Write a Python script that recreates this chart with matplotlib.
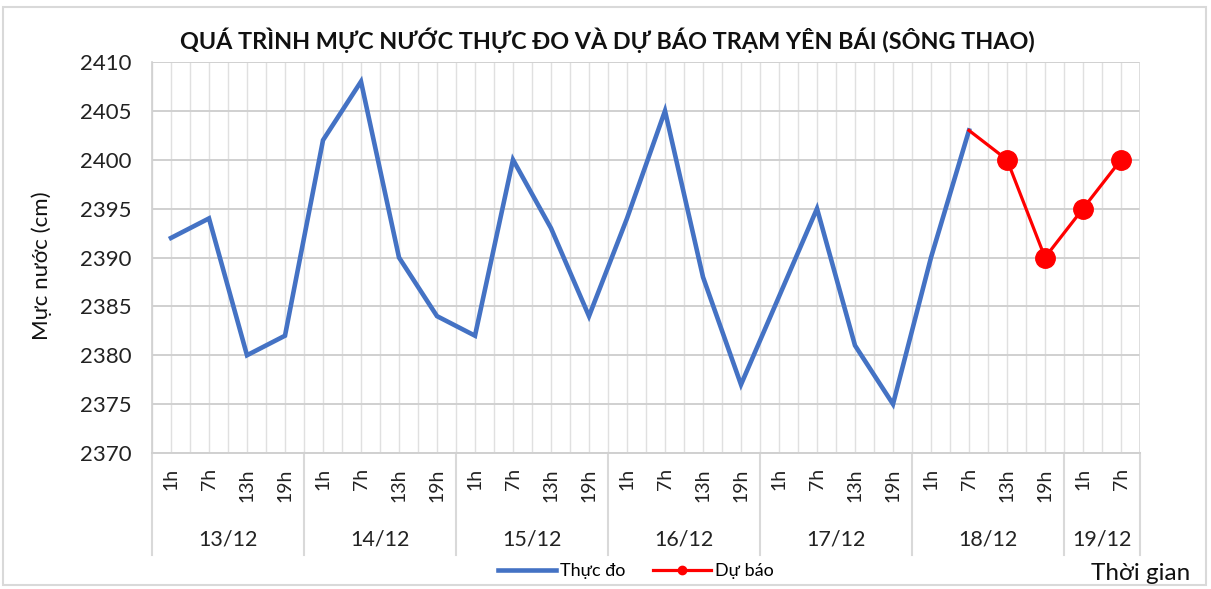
import numpy as np
import matplotlib
matplotlib.use("Agg")
import matplotlib.pyplot as plt
from matplotlib.lines import Line2D
from matplotlib.patches import Rectangle
import matplotlib.transforms as mtransforms

plt.rcParams['font.family'] = ['Lato', 'DejaVu Sans']

days = ['13/12', '14/12', '15/12', '16/12', '17/12', '18/12', '19/12']
day_hours = [['1h', '7h', '13h', '19h']] * 6 + [['1h', '7h']]
observed = [2392, 2394, 2380, 2382,
            2402, 2408, 2390, 2384,
            2382, 2400, 2393, 2384,
            2394, 2405, 2388, 2377,
            2386, 2395, 2381, 2375,
            2390, 2403]
forecast_start = 21
forecast = [2403, 2400, 2390, 2395, 2400]
title = "QUÁ TRÌNH MỰC NƯỚC THỰC ĐO VÀ DỰ BÁO TRẠM YÊN BÁI (SÔNG THAO)"
yticks = [2370, 2375, 2380, 2385, 2390, 2395, 2400, 2405, 2410]

hour_labels = [h for hs in day_hours for h in hs]
n = len(hour_labels)
x = np.arange(n)

W, H = 1211, 589
fig = plt.figure(figsize=(W / 100, H / 100), dpi=100)
ax = fig.add_axes([152 / W, 1 - 453 / H, (1140 - 152) / W, (453 - 62) / H])

# outer chart border
fig.patches.append(Rectangle((3 / W, 4 / H), 1203 / W, 578 / H, transform=fig.transFigure,
                             fill=False, edgecolor='#D9D9D9', linewidth=1.5))

blue = '#4472C4'
red = '#FF0000'
ax.plot(x[:len(observed)], observed, color=blue, linewidth=3.3, solid_joinstyle='miter', zorder=3)
xf = x[forecast_start:forecast_start + len(forecast)]
ax.plot(xf, forecast, color=red, linewidth=2.3, marker='o', markersize=14,
        markevery=list(range(1, len(forecast))), zorder=4)

ax.set_xlim(-0.5, n - 0.5)
ax.set_ylim(yticks[0], yticks[-1])
ax.set_yticks(yticks)
ax.set_yticklabels([str(v) for v in yticks], fontsize=16, color='#222222')
ax.set_xticks(x)
ax.set_xticklabels(hour_labels, rotation=90, fontsize=14, va='top', ha='center', color='#222222')
ax.set_xticks(np.arange(-0.5, n, 1.0), minor=True)
ax.tick_params(axis='x', which='both', length=0, pad=11)
ax.tick_params(axis='y', length=0, pad=15)

ax.grid(True, axis='y', color='#D0D0D0', linewidth=1.4, zorder=0)
ax.grid(True, axis='x', which='both', color='#E0E0E0', linewidth=1.0, zorder=0)
ax.set_axisbelow(True)
for s in ['top', 'right']:
    ax.spines[s].set_visible(False)
ax.spines['left'].set_color('#D0D0D0')
ax.spines['bottom'].set_color('#D0D0D0')
ax.spines['left'].set_linewidth(1.2)
ax.spines['bottom'].set_linewidth(1.4)

# right boundary line of plot
ax.axvline(n - 0.5, color='#D9D9D9', linewidth=1.2)

# day groups
trans = mtransforms.blended_transform_factory(ax.transData, ax.transAxes)
pos = 0
bounds = [-0.5]
for d, hs in zip(days, day_hours):
    start = pos
    pos += len(hs)
    bounds.append(pos - 0.5)
    ax.text((start + pos - 1) / 2, -0.222, d, transform=trans, ha='center', va='center',
            fontsize=15.5, color='#222222')
for b in bounds:
    ax.add_line(Line2D([b, b], [0, -0.261], transform=trans, color='#D9D9D9',
                       linewidth=1.5, clip_on=False))

fig.text(607 / W, 1 - 40 / H, title, ha='center', va='center', fontsize=16.8,
         fontweight='bold', color='#111111')
fig.text(42 / W, 1 - 266 / H, 'Mực nước (cm)', rotation=90, ha='center', va='center',
         fontsize=16, color='#111111')
fig.text(1190 / W, 1 - 573 / H, 'Thời gian', ha='right', va='center', fontsize=17.5,
         color='#111111')

handles = [Line2D([], [], color=blue, linewidth=3.3),
           Line2D([], [], color=red, linewidth=2.3, marker='o', markersize=6)]
fig.legend(handles, ['Thực đo', 'Dự báo'], loc='center', bbox_to_anchor=(636 / W, 1 - 571 / H),
           ncol=2, frameon=False, fontsize=13, handlelength=3.2, columnspacing=1.5,
           handletextpad=0.25)

fig.savefig('out.png', dpi=100)
